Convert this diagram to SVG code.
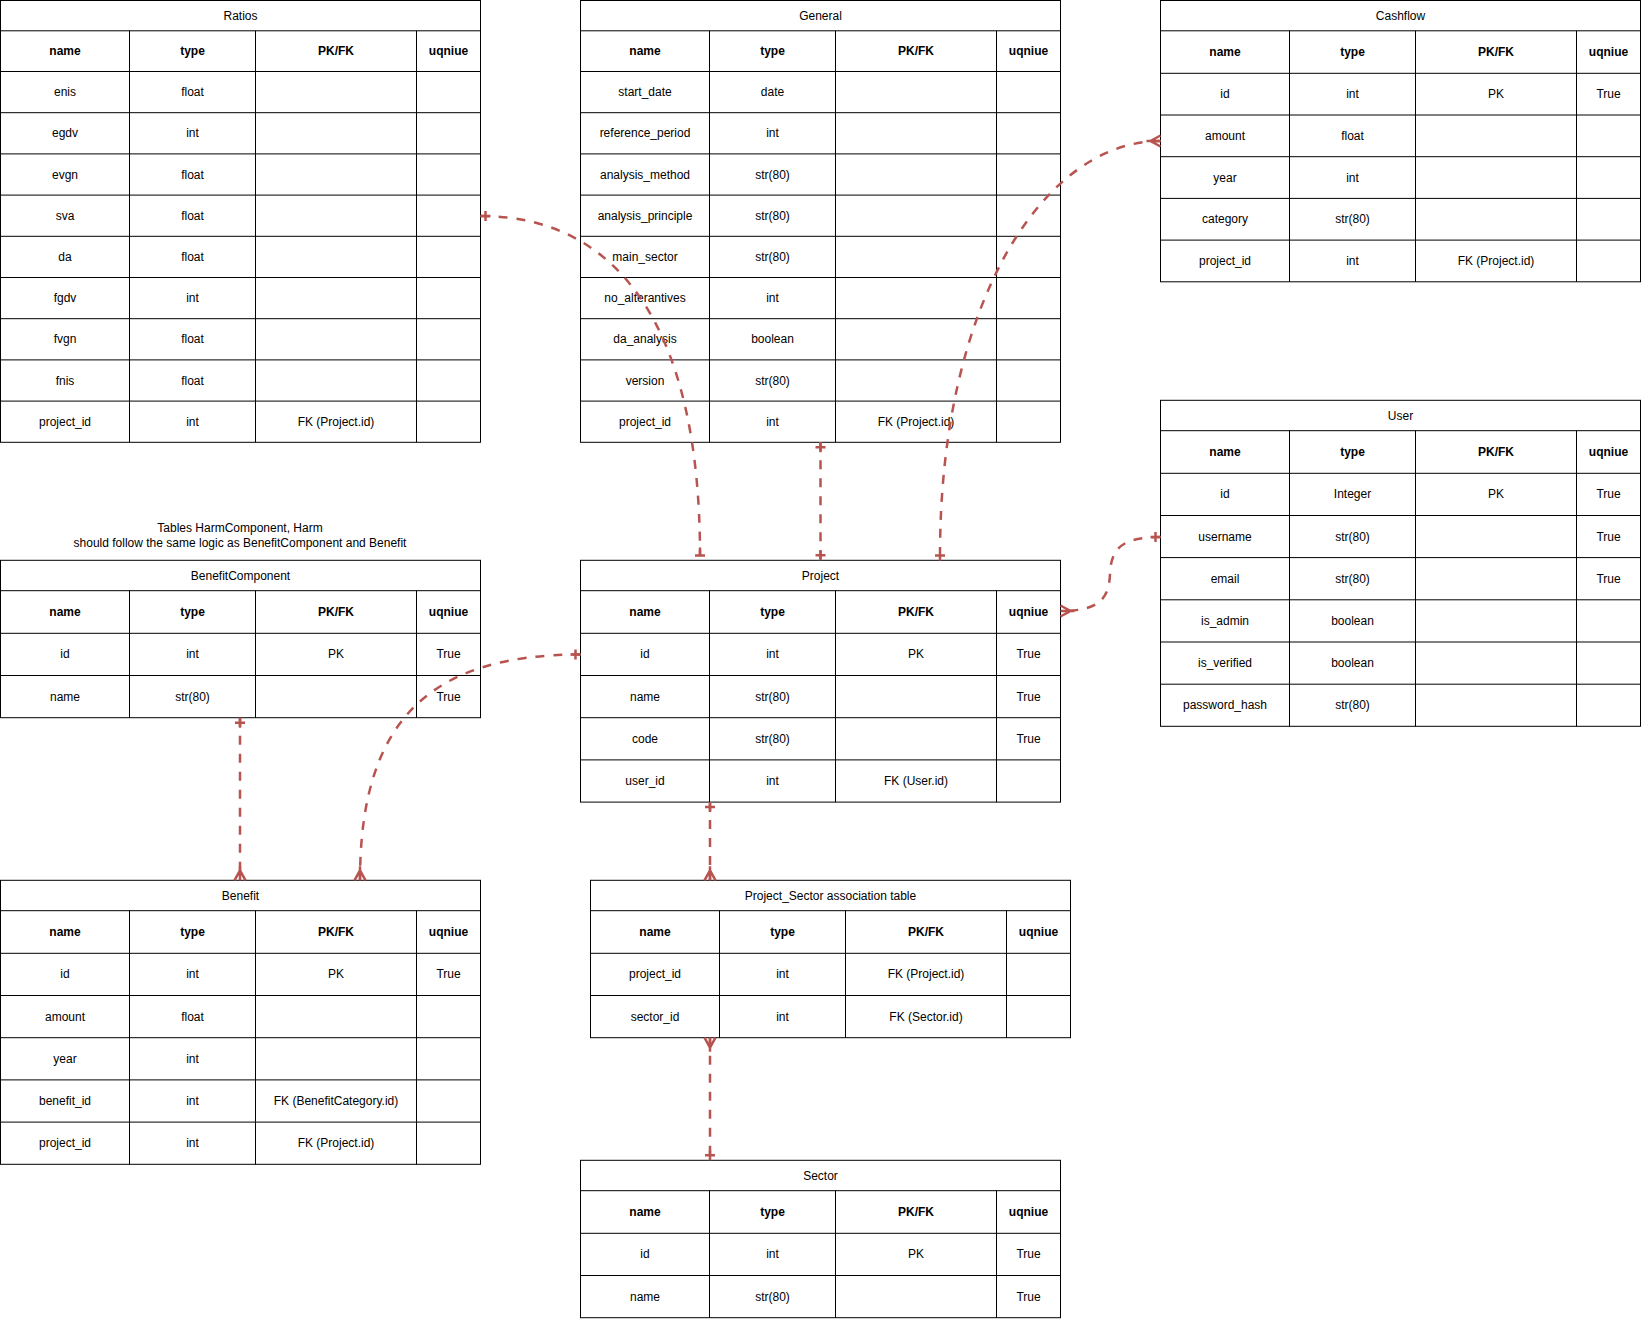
<svg xmlns="http://www.w3.org/2000/svg" width="1642" height="1319" viewBox="0 0 1642 1319">
<style>
.t{font-family:"Liberation Sans",Arial,Helvetica,sans-serif;font-size:12px;fill:#000;text-anchor:middle;dominant-baseline:central}
.b{font-weight:bold}
.box{fill:#fff;stroke:#000;stroke-width:1}
.grid{fill:none;stroke:#000;stroke-width:1}
.edge{fill:none;stroke:#b85450;stroke-width:2.5;stroke-dasharray:9 9}
.mk{fill:none;stroke:#b85450;stroke-width:2.5}
</style>
<defs>
<marker id="onePlus" viewBox="-20 -10 25 20" refX="0" refY="0" markerWidth="25" markerHeight="20" markerUnits="userSpaceOnUse" orient="auto-start-reverse" overflow="visible"><path class="mk" d="M-5,-5V5M-10,0H0"/></marker>
<marker id="oneUp" viewBox="-20 -10 25 20" refX="0" refY="0" markerWidth="25" markerHeight="20" markerUnits="userSpaceOnUse" orient="auto-start-reverse" overflow="visible"><path class="mk" d="M0,-5V5M-8,0H0"/></marker>
<marker id="oneDown" viewBox="-20 -10 25 20" refX="0" refY="0" markerWidth="25" markerHeight="20" markerUnits="userSpaceOnUse" orient="auto-start-reverse" overflow="visible"><path class="mk" d="M0,-5V5M0,0H5"/></marker>
<marker id="many" viewBox="-20 -10 25 20" refX="0" refY="0" markerWidth="25" markerHeight="20" markerUnits="userSpaceOnUse" orient="auto-start-reverse" overflow="visible"><path class="mk" d="M0,-5.5L-10,0L0,5.5M-14,0H0"/></marker>
</defs>

<g id="note">
<text class="t" x="240" y="527.8">Tables HarmComponent, Harm</text>
<text class="t" x="240" y="542.5">should follow the same logic as BenefitComponent and Benefit</text>
</g>

<g id="Ratios">
<rect class="box" x="0.5" y="0.5" width="480" height="441.8"/>
<path class="grid" d="M0.5,30.8H480.5M0.5,71.5H480.5M0.5,112.7H480.5M0.5,153.9H480.5M0.5,195.1H480.5M0.5,236.3H480.5M0.5,277.5H480.5M0.5,318.7H480.5M0.5,359.9H480.5M0.5,401.1H480.5M129.5,30.8V442.3M255.5,30.8V442.3M416.5,30.8V442.3"/>
<text class="t" x="240.5" y="15.6">Ratios</text>
<text class="t b" x="65" y="51.1">name</text><text class="t b" x="192.5" y="51.1">type</text><text class="t b" x="336" y="51.1">PK/FK</text><text class="t b" x="448.5" y="51.1">uqniue</text>
<text class="t" x="65" y="92.1">enis</text><text class="t" x="192.5" y="92.1">float</text>
<text class="t" x="65" y="133.3">egdv</text><text class="t" x="192.5" y="133.3">int</text>
<text class="t" x="65" y="174.5">evgn</text><text class="t" x="192.5" y="174.5">float</text>
<text class="t" x="65" y="215.7">sva</text><text class="t" x="192.5" y="215.7">float</text>
<text class="t" x="65" y="256.9">da</text><text class="t" x="192.5" y="256.9">float</text>
<text class="t" x="65" y="298.1">fgdv</text><text class="t" x="192.5" y="298.1">int</text>
<text class="t" x="65" y="339.3">fvgn</text><text class="t" x="192.5" y="339.3">float</text>
<text class="t" x="65" y="380.5">fnis</text><text class="t" x="192.5" y="380.5">float</text>
<text class="t" x="65" y="421.7">project_id</text><text class="t" x="192.5" y="421.7">int</text><text class="t" x="336" y="421.7">FK (Project.id)</text>
</g>

<g id="General">
<rect class="box" x="580.5" y="0.5" width="480" height="441.8"/>
<path class="grid" d="M580.5,30.8H1060.5M580.5,71.5H1060.5M580.5,112.7H1060.5M580.5,153.9H1060.5M580.5,195.1H1060.5M580.5,236.3H1060.5M580.5,277.5H1060.5M580.5,318.7H1060.5M580.5,359.9H1060.5M580.5,401.1H1060.5M709.5,30.8V442.3M835.5,30.8V442.3M996.5,30.8V442.3"/>
<text class="t" x="820.5" y="15.6">General</text>
<text class="t b" x="645" y="51.1">name</text><text class="t b" x="772.5" y="51.1">type</text><text class="t b" x="916" y="51.1">PK/FK</text><text class="t b" x="1028.5" y="51.1">uqniue</text>
<text class="t" x="645" y="92.1">start_date</text><text class="t" x="772.5" y="92.1">date</text>
<text class="t" x="645" y="133.3">reference_period</text><text class="t" x="772.5" y="133.3">int</text>
<text class="t" x="645" y="174.5">analysis_method</text><text class="t" x="772.5" y="174.5">str(80)</text>
<text class="t" x="645" y="215.7">analysis_principle</text><text class="t" x="772.5" y="215.7">str(80)</text>
<text class="t" x="645" y="256.9">main_sector</text><text class="t" x="772.5" y="256.9">str(80)</text>
<text class="t" x="645" y="298.1">no_alterantives</text><text class="t" x="772.5" y="298.1">int</text>
<text class="t" x="645" y="339.3">da_analysis</text><text class="t" x="772.5" y="339.3">boolean</text>
<text class="t" x="645" y="380.5">version</text><text class="t" x="772.5" y="380.5">str(80)</text>
<text class="t" x="645" y="421.7">project_id</text><text class="t" x="772.5" y="421.7">int</text><text class="t" x="916" y="421.7">FK (Project.id)</text>
</g>

<g id="Cashflow">
<rect class="box" x="1160.5" y="0.5" width="480" height="281.3"/>
<path class="grid" d="M1160.5,30.8H1640.5M1160.5,73.3H1640.5M1160.5,115H1640.5M1160.5,156.7H1640.5M1160.5,198.4H1640.5M1160.5,240.1H1640.5M1289.5,30.8V281.8M1415.5,30.8V281.8M1576.5,30.8V281.8"/>
<text class="t" x="1400.5" y="15.6">Cashflow</text>
<text class="t b" x="1225" y="52">name</text><text class="t b" x="1352.5" y="52">type</text><text class="t b" x="1496" y="52">PK/FK</text><text class="t b" x="1608.5" y="52">uqniue</text>
<text class="t" x="1225" y="94.2">id</text><text class="t" x="1352.5" y="94.2">int</text><text class="t" x="1496" y="94.2">PK</text><text class="t" x="1608.5" y="94.2">True</text>
<text class="t" x="1225" y="135.9">amount</text><text class="t" x="1352.5" y="135.9">float</text>
<text class="t" x="1225" y="177.6">year</text><text class="t" x="1352.5" y="177.6">int</text>
<text class="t" x="1225" y="219.3">category</text><text class="t" x="1352.5" y="219.3">str(80)</text>
<text class="t" x="1225" y="261">project_id</text><text class="t" x="1352.5" y="261">int</text><text class="t" x="1496" y="261">FK (Project.id)</text>
</g>

<g id="User">
<rect class="box" x="1160.5" y="400.3" width="480" height="326"/>
<path class="grid" d="M1160.5,430.7H1640.5M1160.5,473.3H1640.5M1160.5,515.5H1640.5M1160.5,557.6H1640.5M1160.5,599.8H1640.5M1160.5,642H1640.5M1160.5,684.2H1640.5M1289.5,430.7V726.3M1415.5,430.7V726.3M1576.5,430.7V726.3"/>
<text class="t" x="1400.5" y="415.5">User</text>
<text class="t b" x="1225" y="452">name</text><text class="t b" x="1352.5" y="452">type</text><text class="t b" x="1496" y="452">PK/FK</text><text class="t b" x="1608.5" y="452">uqniue</text>
<text class="t" x="1225" y="494.4">id</text><text class="t" x="1352.5" y="494.4">Integer</text><text class="t" x="1496" y="494.4">PK</text><text class="t" x="1608.5" y="494.4">True</text>
<text class="t" x="1225" y="536.6">username</text><text class="t" x="1352.5" y="536.6">str(80)</text><text class="t" x="1608.5" y="536.6">True</text>
<text class="t" x="1225" y="578.7">email</text><text class="t" x="1352.5" y="578.7">str(80)</text><text class="t" x="1608.5" y="578.7">True</text>
<text class="t" x="1225" y="620.9">is_admin</text><text class="t" x="1352.5" y="620.9">boolean</text>
<text class="t" x="1225" y="663.1">is_verified</text><text class="t" x="1352.5" y="663.1">boolean</text>
<text class="t" x="1225" y="705.2">password_hash</text><text class="t" x="1352.5" y="705.2">str(80)</text>
</g>

<g id="BenefitComponent">
<rect class="box" x="0.5" y="560.3" width="480" height="157.4"/>
<path class="grid" d="M0.5,590.7H480.5M0.5,633.3H480.5M0.5,675.5H480.5M129.5,590.7V717.7M255.5,590.7V717.7M416.5,590.7V717.7"/>
<text class="t" x="240.5" y="575.5">BenefitComponent</text>
<text class="t b" x="65" y="612">name</text><text class="t b" x="192.5" y="612">type</text><text class="t b" x="336" y="612">PK/FK</text><text class="t b" x="448.5" y="612">uqniue</text>
<text class="t" x="65" y="654.4">id</text><text class="t" x="192.5" y="654.4">int</text><text class="t" x="336" y="654.4">PK</text><text class="t" x="448.5" y="654.4">True</text>
<text class="t" x="65" y="696.6">name</text><text class="t" x="192.5" y="696.6">str(80)</text><text class="t" x="448.5" y="696.6">True</text>
</g>

<g id="Project">
<rect class="box" x="580.5" y="560.3" width="480" height="241.8"/>
<path class="grid" d="M580.5,590.7H1060.5M580.5,633.3H1060.5M580.5,675.5H1060.5M580.5,717.7H1060.5M580.5,759.9H1060.5M709.5,590.7V802.1M835.5,590.7V802.1M996.5,590.7V802.1"/>
<text class="t" x="820.5" y="575.5">Project</text>
<text class="t b" x="645" y="612">name</text><text class="t b" x="772.5" y="612">type</text><text class="t b" x="916" y="612">PK/FK</text><text class="t b" x="1028.5" y="612">uqniue</text>
<text class="t" x="645" y="654.4">id</text><text class="t" x="772.5" y="654.4">int</text><text class="t" x="916" y="654.4">PK</text><text class="t" x="1028.5" y="654.4">True</text>
<text class="t" x="645" y="696.6">name</text><text class="t" x="772.5" y="696.6">str(80)</text><text class="t" x="1028.5" y="696.6">True</text>
<text class="t" x="645" y="738.8">code</text><text class="t" x="772.5" y="738.8">str(80)</text><text class="t" x="1028.5" y="738.8">True</text>
<text class="t" x="645" y="781">user_id</text><text class="t" x="772.5" y="781">int</text><text class="t" x="916" y="781">FK (User.id)</text>
</g>

<g id="Benefit">
<rect class="box" x="0.5" y="880.3" width="480" height="284"/>
<path class="grid" d="M0.5,910.7H480.5M0.5,953.3H480.5M0.5,995.5H480.5M0.5,1037.7H480.5M0.5,1079.9H480.5M0.5,1122.1H480.5M129.5,910.7V1164.3M255.5,910.7V1164.3M416.5,910.7V1164.3"/>
<text class="t" x="240.5" y="895.5">Benefit</text>
<text class="t b" x="65" y="932">name</text><text class="t b" x="192.5" y="932">type</text><text class="t b" x="336" y="932">PK/FK</text><text class="t b" x="448.5" y="932">uqniue</text>
<text class="t" x="65" y="974.4">id</text><text class="t" x="192.5" y="974.4">int</text><text class="t" x="336" y="974.4">PK</text><text class="t" x="448.5" y="974.4">True</text>
<text class="t" x="65" y="1016.6">amount</text><text class="t" x="192.5" y="1016.6">float</text>
<text class="t" x="65" y="1058.8">year</text><text class="t" x="192.5" y="1058.8">int</text>
<text class="t" x="65" y="1101">benefit_id</text><text class="t" x="192.5" y="1101">int</text><text class="t" x="336" y="1101">FK (BenefitCategory.id)</text>
<text class="t" x="65" y="1143.2">project_id</text><text class="t" x="192.5" y="1143.2">int</text><text class="t" x="336" y="1143.2">FK (Project.id)</text>
</g>

<g id="Project_Sector">
<rect class="box" x="590.5" y="880.3" width="480" height="157.4"/>
<path class="grid" d="M590.5,910.7H1070.5M590.5,953.3H1070.5M590.5,995.5H1070.5M719.5,910.7V1037.7M845.5,910.7V1037.7M1006.5,910.7V1037.7"/>
<text class="t" x="830.5" y="895.5">Project_Sector association table</text>
<text class="t b" x="655" y="932">name</text><text class="t b" x="782.5" y="932">type</text><text class="t b" x="926" y="932">PK/FK</text><text class="t b" x="1038.5" y="932">uqniue</text>
<text class="t" x="655" y="974.4">project_id</text><text class="t" x="782.5" y="974.4">int</text><text class="t" x="926" y="974.4">FK (Project.id)</text>
<text class="t" x="655" y="1016.6">sector_id</text><text class="t" x="782.5" y="1016.6">int</text><text class="t" x="926" y="1016.6">FK (Sector.id)</text>
</g>

<g id="Sector">
<rect class="box" x="580.5" y="1160.3" width="480" height="157.4"/>
<path class="grid" d="M580.5,1190.7H1060.5M580.5,1233.3H1060.5M580.5,1275.5H1060.5M709.5,1190.7V1317.7M835.5,1190.7V1317.7M996.5,1190.7V1317.7"/>
<text class="t" x="820.5" y="1175.5">Sector</text>
<text class="t b" x="645" y="1212">name</text><text class="t b" x="772.5" y="1212">type</text><text class="t b" x="916" y="1212">PK/FK</text><text class="t b" x="1028.5" y="1212">uqniue</text>
<text class="t" x="645" y="1254.4">id</text><text class="t" x="772.5" y="1254.4">int</text><text class="t" x="916" y="1254.4">PK</text><text class="t" x="1028.5" y="1254.4">True</text>
<text class="t" x="645" y="1296.6">name</text><text class="t" x="772.5" y="1296.6">str(80)</text><text class="t" x="1028.5" y="1296.6">True</text>
</g>

<g id="connectors">
<path id="e-ratios-project" class="edge" d="M480.5,216C620,216 700,330 700,555.5" marker-start="url(#onePlus)" marker-end="url(#oneUp)"/>
<path id="e-general-project" class="edge" d="M820.5,442.3V560.3" marker-start="url(#onePlus)" marker-end="url(#onePlus)"/>
<path id="e-cashflow-project" class="edge" d="M1160.5,141C1045,141 940,300 940,555.5" marker-start="url(#many)" marker-end="url(#oneDown)"/>
<path id="e-user-project" class="edge" d="M1160.5,537C1120,537 1111,550 1110,574C1109,598 1100,611 1060.5,611" marker-start="url(#onePlus)" marker-end="url(#many)"/>
<path id="e-project-benefit" class="edge" d="M580.5,654.5C430,654.5 360,720 360,880.3" marker-start="url(#onePlus)" marker-end="url(#many)"/>
<path id="e-bc-benefit" class="edge" d="M240,717.7V880.3" marker-start="url(#onePlus)" marker-end="url(#many)"/>
<path id="e-project-ps" class="edge" d="M710,802.1V880.3" marker-start="url(#onePlus)" marker-end="url(#many)"/>
<path id="e-ps-sector" class="edge" d="M710,1037.7V1160.3" marker-start="url(#many)" marker-end="url(#onePlus)"/>
</g>
</svg>
